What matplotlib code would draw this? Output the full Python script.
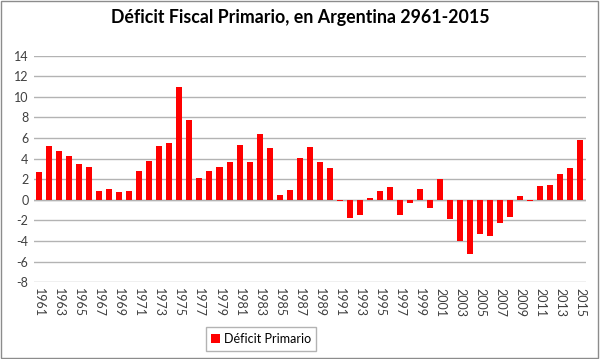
import matplotlib
matplotlib.use("Agg")
import matplotlib.pyplot as plt
from matplotlib.patches import Rectangle

# data
years = list(range(1961, 2016))
deficit = [2.75, 5.24, 4.76, 4.27, 3.46, 3.2, 0.9, 1.04, 0.78, 0.84,
           2.85, 3.79, 5.2, 5.57, 10.97, 7.8, 2.17, 2.78, 3.17, 3.72,
           5.34, 3.72, 6.38, 5.08, 0.49, 0.97, 4.08, 5.15, 3.66, 3.1,
           -0.06, -1.72, -1.46, 0.19, 0.9, 1.26, -1.49, -0.26, 1.1, -0.74,
           2.0, -1.88, -4.01, -5.21, -3.27, -3.5, -2.27, -1.68, 0.42, -0.1,
           1.36, 1.49, 2.49, 3.14, 5.86]
yticks = list(range(-8, 15, 2))

plt.rcParams['font.family'] = ['Lato', 'DejaVu Sans']

fig = plt.figure(figsize=(6, 3.59), dpi=100)
ax = fig.add_axes([34 / 600, 1 - 282.3 / 359, (585.5 - 34) / 600, (282.3 - 55.7) / 359])

x = list(range(len(years)))
ax.bar(x, deficit, width=0.6, color='#ff0000', label='Déficit Primario', zorder=3)

ax.set_xlim(-0.5, len(years) - 0.5)
ax.set_ylim(-8, 14)
ax.set_yticks(yticks)
ax.set_yticklabels([str(v) for v in yticks], fontsize=9, color='#404040')
ax.yaxis.grid(True, color='#b3b3b3', linewidth=1, zorder=0)
ax.axhline(0, color='#b3b3b3', linewidth=1, zorder=1)

ax.set_xticks(x[::2])
ax.set_xticklabels([str(y) for y in years[::2]], rotation=-90, fontsize=9, color='#404040')
ax.tick_params(axis='both', length=0, pad=4)
for s in ax.spines.values():
    s.set_visible(False)

fig.suptitle('Déficit Fiscal Primario, en Argentina 2961-2015', y=0.975,
             fontsize=12.8, fontweight='bold', color='#000000')

leg = ax.legend(loc='center', bbox_to_anchor=(261 / 600, 1 - 339 / 359),
                bbox_transform=fig.transFigure, fontsize=9, frameon=True,
                fancybox=False, edgecolor='#a0a0a0', handlelength=0.7,
                handleheight=0.7, handletextpad=0.3, borderpad=0.45)
leg.get_frame().set_linewidth(1)

fig.patches.append(Rectangle((0.002, 0.003), 0.995, 0.994, transform=fig.transFigure,
                             fill=False, edgecolor='#8c8c8c', linewidth=1))

fig.savefig('out.png', dpi=100)
